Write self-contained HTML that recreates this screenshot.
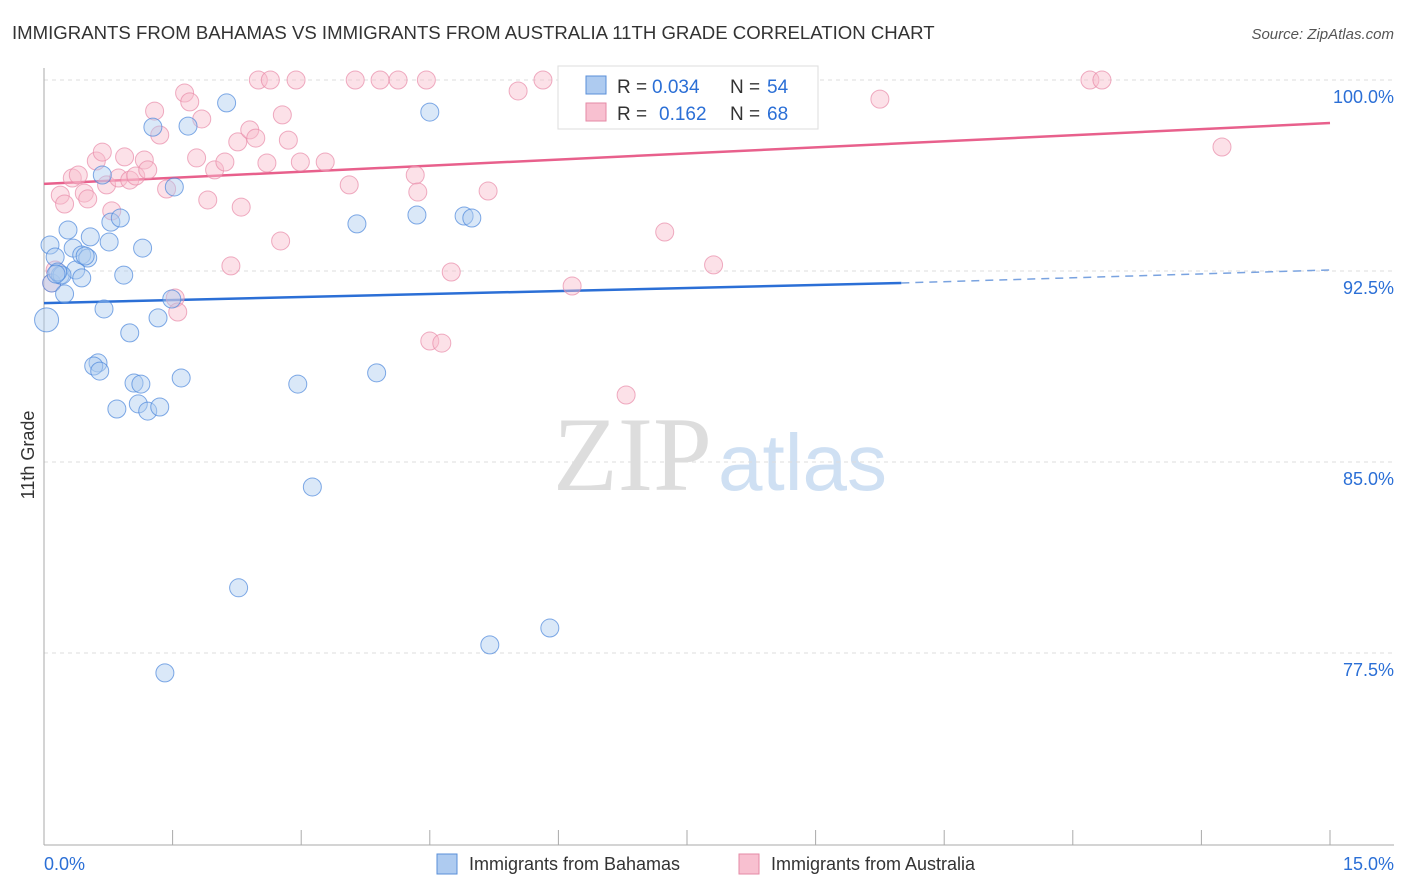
<!DOCTYPE html>
<html><head><meta charset="utf-8"><style>
body{margin:0;background:#fff;font-family:"Liberation Sans",sans-serif;}
svg{display:block}
</style></head><body>
<svg width="1406" height="892" xmlns="http://www.w3.org/2000/svg">
<text x="12" y="39" font-size="18.6" fill="#333">IMMIGRANTS FROM BAHAMAS VS IMMIGRANTS FROM AUSTRALIA 11TH GRADE CORRELATION CHART</text>
<text x="1394" y="39" font-size="15" fill="#555" text-anchor="end" font-style="italic">Source: ZipAtlas.com</text>
<g>
<text x="712" y="490" font-size="106" fill="#ddd" text-anchor="end" font-family="Liberation Serif,serif">ZIP</text>
<text x="718" y="490" font-size="80" fill="#cfe0f3">atlas</text>
</g>
<g id="grid"></g>
<g id="axes"></g>
<g id="lines"></g>
<g id="pts"></g>
<g>
<rect x="558" y="66" width="260" height="63" fill="#fff" stroke="#ddd"/>
<rect x="586" y="76" width="20" height="18" fill="#aecbf0" stroke="#5a8fd8"/>
<rect x="586" y="103" width="20" height="18" fill="#f8c0d0" stroke="#e58aa6"/>
<text y="93" font-size="19" fill="#333"><tspan x="617">R =</tspan><tspan x="652" fill="#2b6fd6">0.034</tspan><tspan x="730">N =</tspan><tspan x="767" fill="#2b6fd6">54</tspan></text>
<text y="120" font-size="19" fill="#333"><tspan x="617">R =</tspan><tspan x="659" fill="#2b6fd6">0.162</tspan><tspan x="730">N =</tspan><tspan x="767" fill="#2b6fd6">68</tspan></text>
</g>
<g>
<rect x="437" y="854" width="20" height="20" fill="#aecbf0" stroke="#5a8fd8"/>
<text x="469" y="870" font-size="18" fill="#333">Immigrants from Bahamas</text>
<rect x="739" y="854" width="20" height="20" fill="#f8c0d0" stroke="#e58aa6"/>
<text x="771" y="870" font-size="18" fill="#333">Immigrants from Australia</text>
</g>
<text x="34" y="455" font-size="18" fill="#333" text-anchor="middle" transform="rotate(-90 34 455)">11th Grade</text>
<text x="44" y="870" font-size="18" fill="#2b6fd6">0.0%</text>
<text x="1394" y="870" font-size="18" fill="#2b6fd6" text-anchor="end">15.0%</text>
</svg>
<script>
const yTicks=[100,92.5,85,77.5];
const yTickLabels=["100.0%","92.5%","85.0%","77.5%"];
const xTicks=[0,1.5,3,4.5,6,7.5,9,10.5,12,13.5,15];
const bahX=[0.03,0.07,0.13,0.09,0.19,0.24,0.28,0.34,0.37,0.44,0.44,0.51,0.54,0.70,0.76,0.78,0.89,0.93,1.00,1.15,0.68,1.27,1.52,1.68,2.13,1.33,1.49,0.63,0.58,0.65,1.05,1.13,1.10,0.85,1.21,1.35,1.60,2.96,3.13,3.88,3.65,4.35,4.50,4.90,4.99,2.27,5.20,5.90,1.41,8.85,0.48,0.21,0.16,0.14];
const bahY=[90.58,93.52,93.05,92.03,92.34,91.60,94.11,93.40,92.54,92.23,93.13,93.01,93.84,91.01,93.64,94.42,94.58,92.34,90.07,93.40,96.27,98.15,95.80,98.19,99.10,90.66,91.40,88.89,88.77,88.57,88.10,88.06,87.28,87.08,87.00,87.16,88.30,88.06,84.02,88.50,94.35,94.70,98.74,94.66,94.58,80.06,77.82,78.48,76.72,100,93.09,92.34,92.46,92.38];
const ausX=[0.09,0.13,0.19,0.24,0.33,0.40,0.47,0.51,0.61,0.68,0.73,0.79,0.87,0.94,1.00,1.07,1.17,1.21,1.29,1.35,1.43,1.53,1.56,1.64,1.70,1.78,1.84,1.91,1.99,2.11,2.18,2.26,2.30,2.40,2.47,2.50,2.60,2.64,2.78,2.85,2.76,2.94,2.99,3.28,3.56,3.63,3.92,4.13,4.33,4.36,4.46,4.50,4.64,4.75,5.18,5.53,5.82,6.16,6.25,6.91,6.79,7.24,7.81,9.75,12.20,12.34,13.74];
const ausY=[92.03,92.54,95.48,95.13,96.15,96.27,95.56,95.33,96.82,97.17,95.88,94.86,96.15,96.98,96.07,96.23,96.86,96.47,98.78,97.84,95.72,91.44,90.89,99.49,99.14,96.94,98.47,95.29,96.47,96.78,92.70,97.57,95.01,98.04,97.72,100,96.74,100,98.63,97.64,93.68,100,96.78,96.78,95.88,100,100,100,96.27,95.60,100,89.75,89.67,92.46,95.64,99.57,100,91.91,100,99.41,87.63,94.03,92.74,99.25,100,100,97.37];
const bahTrend=[91.24,92.03,92.54]; // at x=0, 10, 15
const ausTrend=[95.92,98.31]; // at x=0, 15
const X=v=>44+v/15*1286, Y=v=>80+(100-v)*191/7.5;
const NS="http://www.w3.org/2000/svg";
function mk(tag,attrs,parent){const e=document.createElementNS(NS,tag);for(const k in attrs)e.setAttribute(k,attrs[k]);document.getElementById(parent).appendChild(e);return e;}
yTicks.forEach((t,i)=>{
 const g=mk('line',{x1:44,x2:1394,y1:Y(t),y2:Y(t),stroke:'#ddd','stroke-dasharray':'4,4'},'grid');
 
 
 const l=mk('text',{x:1394,y:Y(t)+23,'font-size':18,fill:'#2b6fd6','text-anchor':'end'},'grid');
 l.textContent=yTickLabels[i];
 
 
});
const ax=mk('line',{x1:44,x2:44,y1:68,y2:845,stroke:'#aaa'},'axes');


const bx=mk('line',{x1:44,x2:1394,y1:845,y2:845,stroke:'#aaa'},'axes');


xTicks.forEach(t=>{
 const k=mk('line',{x1:X(t),x2:X(t),y1:830,y2:845,stroke:'#aaa'},'axes');
 
 
});
function pts(xs,ys,fill,stroke,name){
 xs.forEach((x,i)=>{
  const c=mk('circle',{cx:X(x),cy:Y(ys[i]),r:(i===0&&name==='bahamas-point')?12:9,fill:fill,'fill-opacity':0.45,stroke:stroke,'stroke-opacity':0.7,'stroke-width':1},'pts');
  
  
 });
}
pts(ausX,ausY,'#f8bccd','#e88aa8','australia-point');
pts(bahX,bahY,'#aecbf0','#4a86dc','bahamas-point');
const a=mk('line',{x1:X(0),y1:Y(ausTrend[0]),x2:X(15),y2:Y(ausTrend[1]),stroke:'#e8608c','stroke-width':2.5},'lines');


const b=mk('line',{x1:X(0),y1:Y(bahTrend[0]),x2:X(10),y2:Y(bahTrend[1]),stroke:'#2b6fd6','stroke-width':2.5},'lines');


const bd=mk('line',{x1:X(10),y1:Y(bahTrend[1]),x2:X(15),y2:Y(bahTrend[2]),stroke:'#7aa3e0','stroke-width':1.5,'stroke-dasharray':'8,6'},'lines');


</script>
</body></html>
